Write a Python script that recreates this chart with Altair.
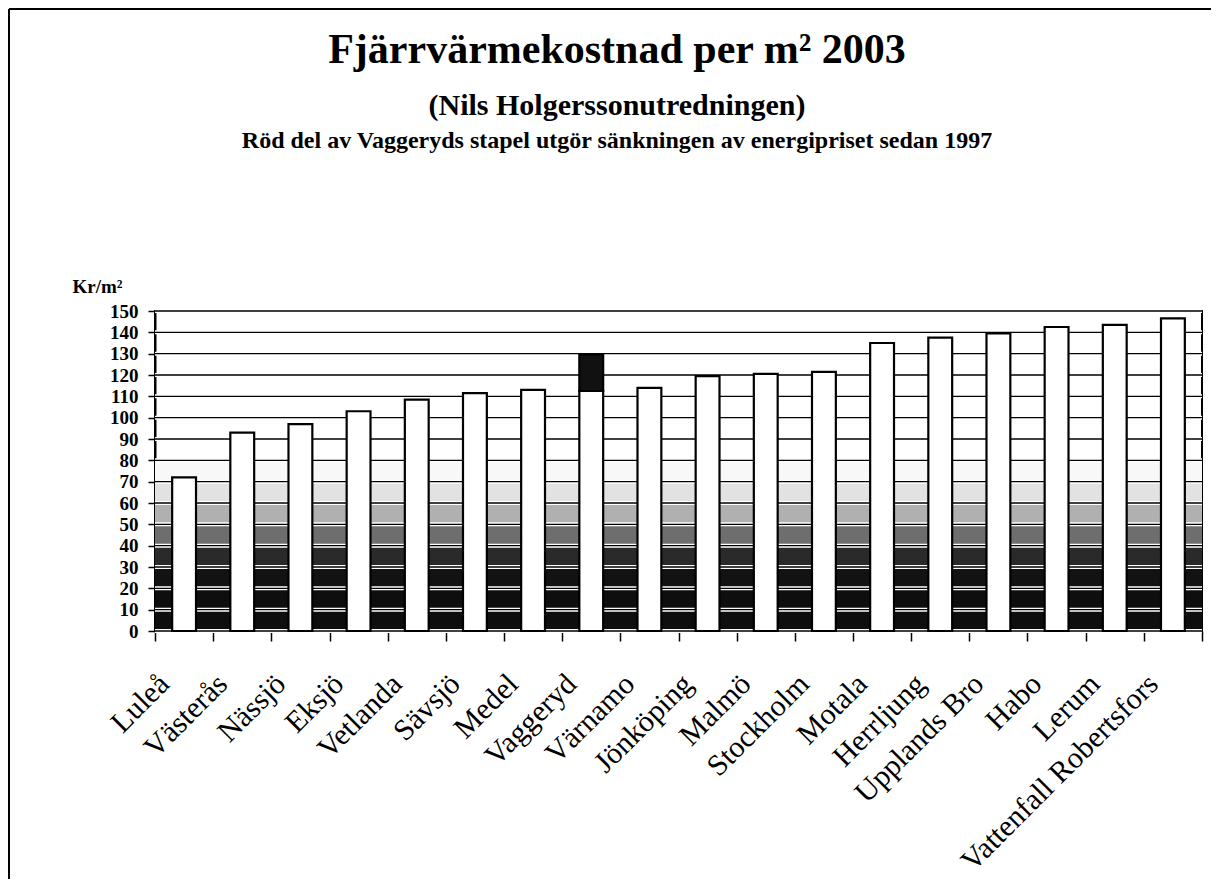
import altair as alt
import pandas as pd

SERIF = "Liberation Serif"

cities = ["Luleå", "Västerås", "Nässjö", "Eksjö", "Vetlanda", "Sävsjö", "Medel",
          "Vaggeryd", "Värnamo", "Jönköping", "Malmö", "Stockholm", "Motala",
          "Herrljung", "Upplands Bro", "Habo", "Lerum", "Vattenfall Robertsfors"]
cost_2003 = [72, 93, 97, 103, 108.5, 111.5, 113, 112.5, 114, 119.5, 120.5, 121.5,
             135, 137.5, 139.5, 142.5, 143.5, 146.5]
reduction_city = ["Vaggeryd"]
reduction_value = [17]

y_ticks = list(range(0, 151, 10))
bg_edges = [0, 10, 20, 30, 40, 50, 60, 70, 80]
bg_colors = ["#0e0e0e", "#0e0e0e", "#121212", "#2a2a2a", "#6e6e6e", "#b0b0b0", "#e2e2e2", "#f8f8f8"]

title1 = "Fjärrvärmekostnad per m² 2003"
title2 = "(Nils Holgerssonutredningen)"
title3 = "Röd del av Vaggeryds stapel utgör sänkningen av energipriset sedan 1997"

rows = []
for c, v in zip(cities, cost_2003):
    rows.append({"city": c, "part": "Stapel", "value": v, "ord": 0})
for c, v in zip(reduction_city, reduction_value):
    rows.append({"city": c, "part": "Röd del", "value": v, "ord": 1})
df = pd.DataFrame(rows)

W, H = 1047, 320

top = bg_edges[-1]
stops = []
for i, col in enumerate(bg_colors):
    stops.append(alt.GradientStop(color=col, offset=bg_edges[i] / top))
    stops.append(alt.GradientStop(color=col, offset=bg_edges[i + 1] / top))
grad = alt.LinearGradient(gradient="linear", stops=stops, x1=0, y1=1, x2=0, y2=0)

yscale = alt.Scale(domain=[0, 150], nice=False)
yaxis = alt.Axis(title="Kr/m²", titleAngle=0, titleX=-83, titleY=-19,
                 titleAlign="left", titleBaseline="alphabetic",
                 titleFont=SERIF, titleFontSize=19, titleFontWeight="bold",
                 titleColor="black", values=y_ticks, labelFont=SERIF,
                 labelFontSize=19, labelFontWeight="bold", labelColor="black",
                 labelPadding=10, tickSize=7, tickColor="black", tickWidth=1.5,
                 domainColor="black", domainWidth=2, grid=False)

one = alt.Data(values=[{}])

background = alt.Chart(one).mark_rect(color=grad).encode(
    x=alt.value(0), x2=alt.value("width"),
    y=alt.datum(bg_edges[0], scale=yscale, axis=yaxis, title="Kr/m²"),
    y2=alt.datum(top),
)

grid_df = pd.DataFrame({"t": y_ticks})
grid_halo = alt.Chart(grid_df).mark_rule(color="white", strokeWidth=4).encode(
    y=alt.Y("t:Q", scale=yscale, axis=yaxis, title="Kr/m²")
)
grid_line = alt.Chart(grid_df).mark_rule(color="black", strokeWidth=1.4).encode(
    y=alt.Y("t:Q", scale=yscale, axis=yaxis, title="Kr/m²")
)

bars = alt.Chart(df).mark_bar(stroke="black", strokeWidth=2.2,
                              width=alt.RelativeBandSize(0.41)).encode(
    x=alt.X("city:N", sort=cities,
            scale=alt.Scale(paddingInner=0, paddingOuter=0),
            axis=alt.Axis(title=None, labelAngle=-45, labelAlign="right",
                          labelBaseline="middle", labelFont=SERIF, labelFontSize=30,
                          labelColor="black", labelPadding=38, labelOffset=-20,
                          labelLimit=600, labelOverlap=False, tickBand="extent",
                          tickColor="black", tickSize=10, tickWidth=1.5,
                          domainColor="black", domainWidth=2, grid=False)),
    y=alt.Y("value:Q", stack="zero", scale=yscale, axis=yaxis, title="Kr/m²"),
    color=alt.Color("part:N", scale=alt.Scale(domain=["Stapel", "Röd del"],
                                              range=["white", "#111111"]), legend=None),
    order=alt.Order("ord:Q", sort="ascending"),
)

t1 = alt.Chart(one).mark_text(text=title1, font=SERIF, fontSize=42, fontWeight="bold",
                              align="center", baseline="alphabetic", color="black").encode(
    x=alt.value(462), y=alt.value(-248))
t2 = alt.Chart(one).mark_text(text=title2, font=SERIF, fontSize=30, fontWeight="bold",
                              align="center", baseline="alphabetic", color="black").encode(
    x=alt.value(462), y=alt.value(-196))
t3 = alt.Chart(one).mark_text(text=title3, font=SERIF, fontSize=24, fontWeight="bold",
                              align="center", baseline="alphabetic", color="black").encode(
    x=alt.value(462), y=alt.value(-163))

frame_left = alt.Chart(one).mark_rule(color="black", strokeWidth=2).encode(
    x=alt.value(-146), y=alt.value(-302), y2=alt.value(568))
frame_top = alt.Chart(one).mark_rule(color="black", strokeWidth=2).encode(
    x=alt.value(-146), x2=alt.value(W + 9), y=alt.value(-302))

chart = alt.layer(background, grid_halo, grid_line, bars, t1, t2, t3, frame_left, frame_top).properties(
    width=W, height=H,
    autosize=alt.AutoSizeParams(type="none"),
    padding={"left": 147, "top": 303, "right": 9, "bottom": 248},
    background="white",
).configure_view(stroke="black", strokeWidth=2)

chart.save("out.html", embed_options={"renderer": "svg", "actions": False})
